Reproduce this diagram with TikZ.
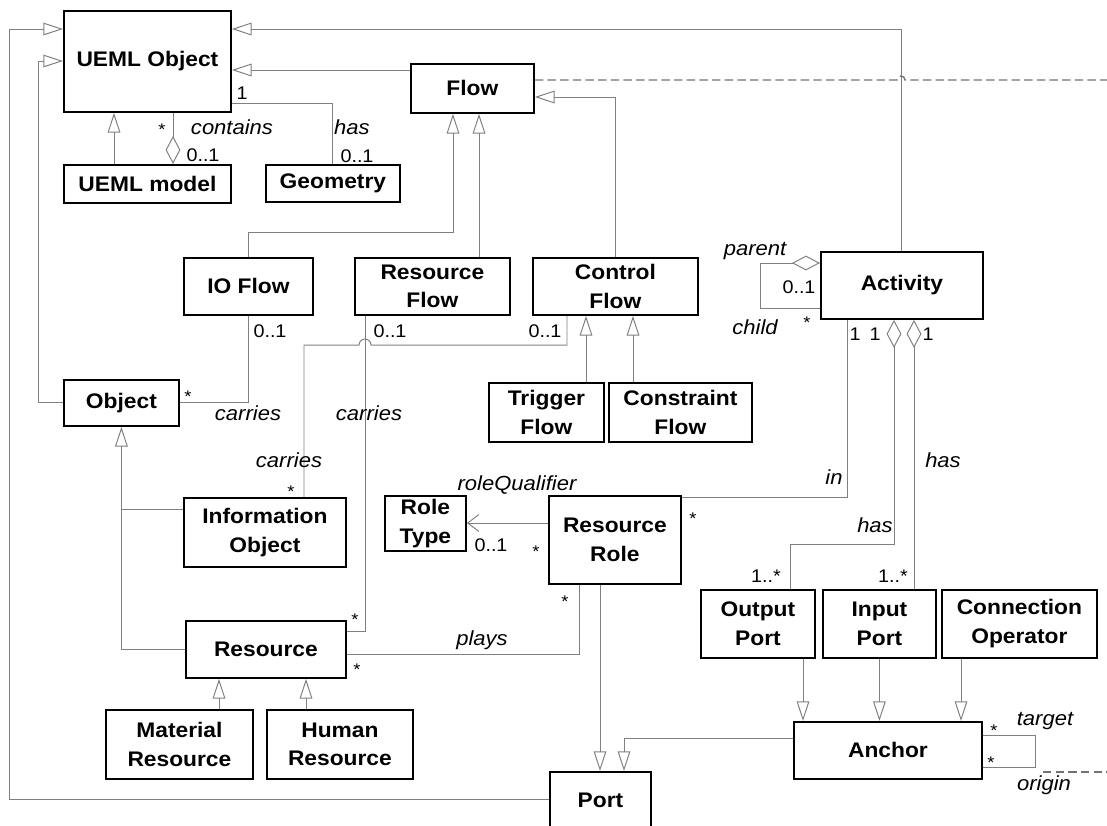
\documentclass[tikz,border=0pt]{standalone}
\usepackage{fontspec}
\setmainfont{Liberation Sans}[FakeStretch=1.08]
\usetikzlibrary{arrows.meta}

\tikzset{
  cls/.style 2 args={draw, line width=1.3pt, anchor=north west, align=center,
    inner sep=0pt, font=\bfseries\fontsize{15}{20.5}\selectfont,
    minimum width=#1*0.025cm, minimum height=#2*0.025cm},
  conn/.style={black!50, line width=0.7pt},
  gen/.style={conn, -{Triangle[open, length=14pt, width=9pt]}},
  agg/.style={conn, {Diamond[open, length=20pt, width=10.5pt]}-},
  dep/.style={black!55, line width=1pt, dash pattern=on 6pt off 3pt},
  lbl/.style={font=\itshape\fontsize{14.5}{16}\selectfont, inner sep=0pt},
  mult/.style={font=\fontsize{13}{15}\selectfont, inner sep=0pt},
  star/.style={font=\fontsize{12}{12}\selectfont, inner sep=0pt, yshift=-2.6pt},
}

\begin{document}
\begin{tikzpicture}[x=0.025cm, y=-0.025cm]
  \useasboundingbox (0,0) rectangle (1107,825);
  % classes
  \node[cls={167}{101}] (UO) at (63,10) {UEML Object};
  \node[cls={167}{38}] (UM) at (63,164) {UEML model};
  \node[cls={134}{37}] (GE) at (265,164) {Geometry};
  \node[cls={123}{49}] (FL) at (410,63) {Flow};
  \node[cls={129}{57}] (IOF) at (183,257) {IO Flow};
  \node[cls={155}{57}] (RF) at (354,257) {Resource\\Flow};
  \node[cls={165}{57}] (CF) at (532,257) {Control\\Flow};
  \node[cls={115}{59}] (TF) at (488,382) {Trigger\\Flow};
  \node[cls={143}{59}] (KF) at (608,382) {Constraint\\Flow};
  \node[cls={162}{67}] (AC) at (820,251) {Activity};
  \node[cls={115}{46}] (OB) at (63,379) {Object};
  \node[cls={162}{69}] (IO) at (183,497) {Information\\Object};
  \node[cls={160}{57}] (RE) at (185,620) {Resource};
  \node[cls={147}{69}] (MR) at (105,709) {Material\\Resource};
  \node[cls={146}{69}] (HR) at (266,709) {Human\\Resource};
  \node[cls={81}{55}] (RT) at (384,495) {Role\\Type};
  \node[cls={132}{88}] (RR) at (548,495) {Resource\\Role};
  \node[cls={114}{68}] (OP) at (700,589) {Output\\Port};
  \node[cls={113}{68}] (IP) at (822,589) {Input\\Port};
  \node[cls={155}{68}] (CO) at (941,589) {Connection\\Operator};
  \node[cls={188}{57}] (AN) at (793,721) {Anchor};
  \node[cls={101}{56}] (PO) at (549,771) {Port};
  \coordinate (topend) at (1107,80);
  \coordinate (lowstart) at (1043,772);
  \coordinate (lowend) at (1107,772);

  % generalizations
  \draw[gen] (UM.north -| 114,0) -- (UO.south -| 114,0);
  \draw[gen] (FL.west |- 0,70) -- (UO.east |- 0,70);
  \draw[gen] (AC.north) |- (UO.east |- 0,29);
  \draw[gen] (OB.west) -- ++(-25,0) |- (UO.west |- 0,61);
  \draw[gen] (PO.west) -| (9,29) -- (UO.west |- 0,29);
  \draw[gen] (IOF.north) |- (453,232) -- (FL.south -| 453,0);
  \draw[gen] (RF.north -| 479,0) -- (FL.south -| 479,0);
  \draw[gen] (CF.north) |- (FL.east |- 0,97);
  \draw[gen] (TF.north -| 586,0) -- (CF.south -| 586,0);
  \draw[gen] (KF.north -| 633,0) -- (CF.south -| 633,0);
  \draw[gen] (RE.west) -| (OB.south);
  \draw[conn] (IO.west |- 0,509) -- (OB.south |- 0,509);
  \draw[gen] (MR.north -| 219,0) -- (RE.south -| 219,0);
  \draw[gen] (HR.north -| 306,0) -- (RE.south -| 306,0);
  \draw[gen] (OP.south -| 803,0) -- (AN.north -| 803,0);
  \draw[gen] (IP.south) -- (AN.north -| IP.south);
  \draw[gen] (CO.south -| 961,0) -- (AN.north -| 961,0);
  \draw[gen] (AN.west |- 0,738) -| (PO.north -| 624,0);
  \draw[gen] (RR.south -| 600,0) -- (PO.north -| 600,0);
  % associations
  \draw[agg] (UM.north -| 173,0) -- (UO.south -| 173,0);
  \draw[conn] (UO.east |- 0,103) -| (GE.north);
  \draw[conn] (IOF.south) |- (OB.east);
  \draw[conn] (RF.south -| 365,0) |- (RE.east |- 0,631);
  \draw[conn] (CF.south -| 567,0) |- (371,345) arc (0:-180:6) -| (IO.north -| 304,0);
  \draw[conn] (RE.east |- 0,654) -| (RR.south -| 579,0);
  \draw[conn, -{Straight Barb[length=8pt, width=12pt]}] (RR.west |- 0,523) -- (RT.east |- 0,523);
  \draw[conn] (AC.south -| 847,0) |- (RR.east |- 0,497);
  \draw[agg] (AC.south -| 894,0) -- ++(0,225) -| (OP.north -| 790,0);
  \draw[agg] (AC.south -| 914,0) -- (IP.north -| 914,0);
  \draw[agg] (AC.west |- 0,263) -- ++(-60,0) |- (AC.west |- 0,308);
  \draw[conn] (AN.east |- 0,735) -- ++(53,0) |- (AN.east |- 0,767);
  \draw[dep] (FL.east |- 0,80) -- (897,80) arc (180:360:4) -- (topend);
  \draw[dep] (lowstart) -- (lowend);

  % role names and multiplicities
  \node[star] (s1) at (162,126) {*};
  \node[lbl] (contains) at (232,127) {contains};
  \node[mult] (m1) at (203,155) {0..1};
  \node[mult] (m2) at (242,93) {1};
  \node[lbl] (has1) at (352,127) {has};
  \node[mult] (m3) at (357,156) {0..1};
  \node[mult] (m4) at (270,331) {0..1};
  \node[mult] (m5) at (390,331) {0..1};
  \node[mult] (m6) at (545,331) {0..1};
  \node[star] (s2) at (188,393) {*};
  \node[lbl] (car1) at (248,413) {carries};
  \node[lbl] (car2) at (369,413) {carries};
  \node[lbl] (car3) at (289,460) {carries};
  \node[star] (s3) at (291,488) {*};
  \node[star] (s4) at (355,616) {*};
  \node[star] (s5) at (357,666) {*};
  \node[lbl] (plays) at (482,640) {plays};
  \node[star] (s6) at (565,598) {*};
  \node[lbl] (rq) at (517,485) {roleQualifier};
  \node[mult] (m7) at (491,545) {0..1};
  \node[star] (s7) at (536,548) {*};
  \node[star] (s8) at (693,515) {*};
  \node[lbl] (in) at (834,477) {in};
  \node[lbl] (parent) at (755,251) {parent};
  \node[mult] (m8) at (799,287) {0..1};
  \node[lbl] (child) at (755,327) {child};
  \node[star] (s9) at (807,319) {*};
  \node[mult] (m9) at (855,334) {1};
  \node[mult] (m10) at (875,334) {1};
  \node[mult] (m11) at (928,334) {1};
  \node[lbl] (has2) at (943,460) {has};
  \node[lbl] (has3) at (875,525) {has};
  \node[mult] (m12) at (766,576) {1..*};
  \node[mult] (m13) at (893,576) {1..*};
  \node[star] (s10) at (994,727) {*};
  \node[star] (s11) at (991,759) {*};
  \node[lbl] (target) at (1045,721) {target};
  \node[lbl] (origin) at (1044,785) {origin};
\end{tikzpicture}
\end{document}
